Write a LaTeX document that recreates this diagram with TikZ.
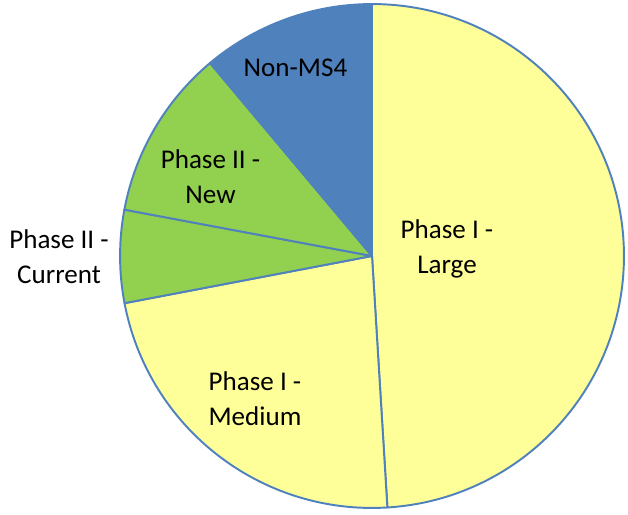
\documentclass[tikz,border=0pt]{standalone}
\usepackage{fontspec}
\setmainfont{Carlito}
\usetikzlibrary{positioning}

\definecolor{pieblue}{HTML}{4F81BD}
\definecolor{pieyellow}{HTML}{FFFF99}
\definecolor{piegreen}{HTML}{92D050}

\begin{document}
\begin{tikzpicture}[
    x=0.02cm, y=0.02cm,
    slice/.style={
        draw=pieblue,
        line width=1.1pt,
        line join=round
    },
    slicetext/.style={
        align=center,
        inner sep=0pt,
        font=\fontsize{15.4}{19.8}\selectfont
    }
]
\useasboundingbox (0,0) rectangle (628,514);
\coordinate (c) at (372,258);

% slices, clockwise from the top
\filldraw[slice, fill=pieyellow] (c) -- ++(90:5.04cm)
    arc[start angle=90, end angle=-86.5, radius=5.04cm] -- cycle;
\filldraw[slice, fill=pieyellow] (c) -- ++(-86.5:5.04cm)
    arc[start angle=-86.5, end angle=-169.2, radius=5.04cm] -- cycle;
\filldraw[slice, fill=piegreen] (c) -- ++(190.8:5.04cm)
    arc[start angle=190.8, end angle=169.4, radius=5.04cm] -- cycle;
\filldraw[slice, fill=piegreen] (c) -- ++(169.4:5.04cm)
    arc[start angle=169.4, end angle=130, radius=5.04cm] -- cycle;
\filldraw[slice, fill=pieblue] (c) -- ++(130:5.04cm)
    arc[start angle=130, end angle=90, radius=5.04cm] -- cycle;

% labels
\node[slicetext] (large) at (447,265.2) {Phase I -\\Large};
\node[slicetext] (medium) at (255,115.2) {Phase I -\\Medium};
\node[slicetext] (current) at (59,257.2) {Phase II -\\Current};
\node[slicetext] (new) at (210.5,337.2) {Phase II -\\New};
\node[slicetext] (nonms) at (295.5,446.5) {Non-MS4};
\end{tikzpicture}
\end{document}
